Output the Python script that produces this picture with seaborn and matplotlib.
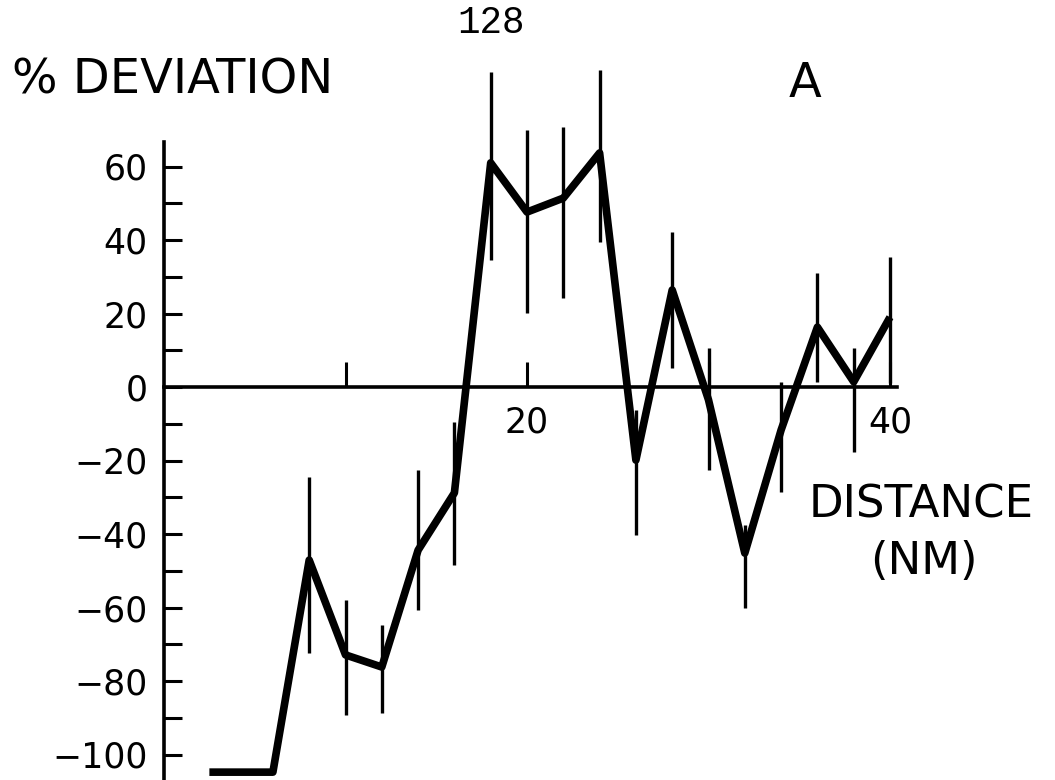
import numpy as np
import pandas as pd
import seaborn as sns
import matplotlib.pyplot as plt

# data (distance in nm, % deviation)
distance = [2.5, 4, 6, 8, 10, 12, 14, 16, 18, 20, 22, 24, 26, 28, 30, 32, 34, 36, 38, 40]
deviation = [-104.8, -104.8, -104.8, -47.1, -72.9, -76.2, -44.4, -28.8, 61.0, 47.6,
             51.4, 63.7, -19.9, 26.4, -3.5, -45.2, -11.7, 16.3, 1.4, 19.0]

# error bars only from 8 nm on
bar_x = [8, 10, 12, 14, 16, 18, 20, 22, 24, 26, 28, 30, 32, 34, 36, 38, 40]
bar_top = [-24.5, -58.0, -64.8, -22.6, -9.5, 85.7, 69.9, 70.7, 86.3, -6.3,
           42.2, 10.6, -37.6, 1.4, 31.0, 10.6, 35.4]
bar_bottom = [-72.4, -89.3, -88.7, -60.7, -48.4, 34.6, 20.1, 24.2, 39.5, -40.3,
              5.2, -22.6, -60.1, -28.6, 1.4, -17.7, 1.1]

y_ticks = [-100, -80, -60, -40, -20, 0, 20, 40, 60]
y_minor = [-90, -70, -50, -30, -10, 10, 30, 50]
x_ticks = [10, 20, 30, 40]
x_labels = ["", "20", "", "40"]

sns.set_style("white")
plt.rcParams['font.family'] = ['DejaVu Sans']
plt.rcParams['text.color'] = 'black'
plt.rcParams['xtick.color'] = 'black'
plt.rcParams['ytick.color'] = 'black'
plt.rcParams['axes.edgecolor'] = 'black'

W, H = 1055, 780
fig = plt.figure(figsize=(W / 100, H / 100), dpi=100)
ax = fig.add_axes([0, 0, 1, 1])

df = pd.DataFrame({"distance": distance, "deviation": deviation})
sns.lineplot(data=df, x="distance", y="deviation", color="black", lw=5.5,
             sort=False, ax=ax, solid_joinstyle="round", solid_capstyle="butt")
ax.vlines(bar_x, bar_bottom, bar_top, color="black", lw=2.4)

# pixel mapping: x=0 at 164px, 18.15 px/unit ; y=0 at 387px, 3.675 px/unit
ax.set_xlim(-164 / 18.15, (W - 164) / 18.15)
ax.set_ylim(-(H - 387) / 3.675, 387 / 3.675)

for side in ["top", "right"]:
    ax.spines[side].set_visible(False)
ax.spines["left"].set_position(("data", 0))
ax.spines["bottom"].set_position(("data", 0))
ax.spines["left"].set_bounds(-107, 66.7)
ax.spines["bottom"].set_bounds(0, 40.4)
ax.spines["left"].set_linewidth(2.6)
ax.spines["bottom"].set_linewidth(2.6)

ax.set_yticks(y_ticks)
ax.set_yticklabels([str(v).replace("-", "\u2212") for v in y_ticks])
ax.set_yticks(y_minor, minor=True)
ax.tick_params(axis="y", which="both", left=True, direction="in", length=13,
               width=2.2, labelsize=25, pad=12)
ax.set_xticks(x_ticks)
ax.set_xticklabels(x_labels)
ax.tick_params(axis="x", which="major", bottom=True, direction="in", length=18,
               width=2.2, labelsize=25, pad=13)
ax.set_xlabel("")
ax.set_ylabel("")

def px(x, y):
    return x / W, 1 - y / H

fig.text(*px(491, 33), "128", ha="center", va="baseline", fontsize=27,
         family=["Liberation Mono", "DejaVu Sans Mono"])
fig.text(*px(12, 93), "% DEVIATION", ha="left", va="baseline", fontsize=34.5)
fig.text(*px(805, 97), "A", ha="center", va="baseline", fontsize=34.5)
fig.text(*px(921, 518), "DISTANCE", ha="center", va="baseline", fontsize=32.5)
fig.text(*px(924, 574), "(NM)", ha="center", va="baseline", fontsize=32.5)

fig.savefig("out.png", dpi=100, facecolor="white")
